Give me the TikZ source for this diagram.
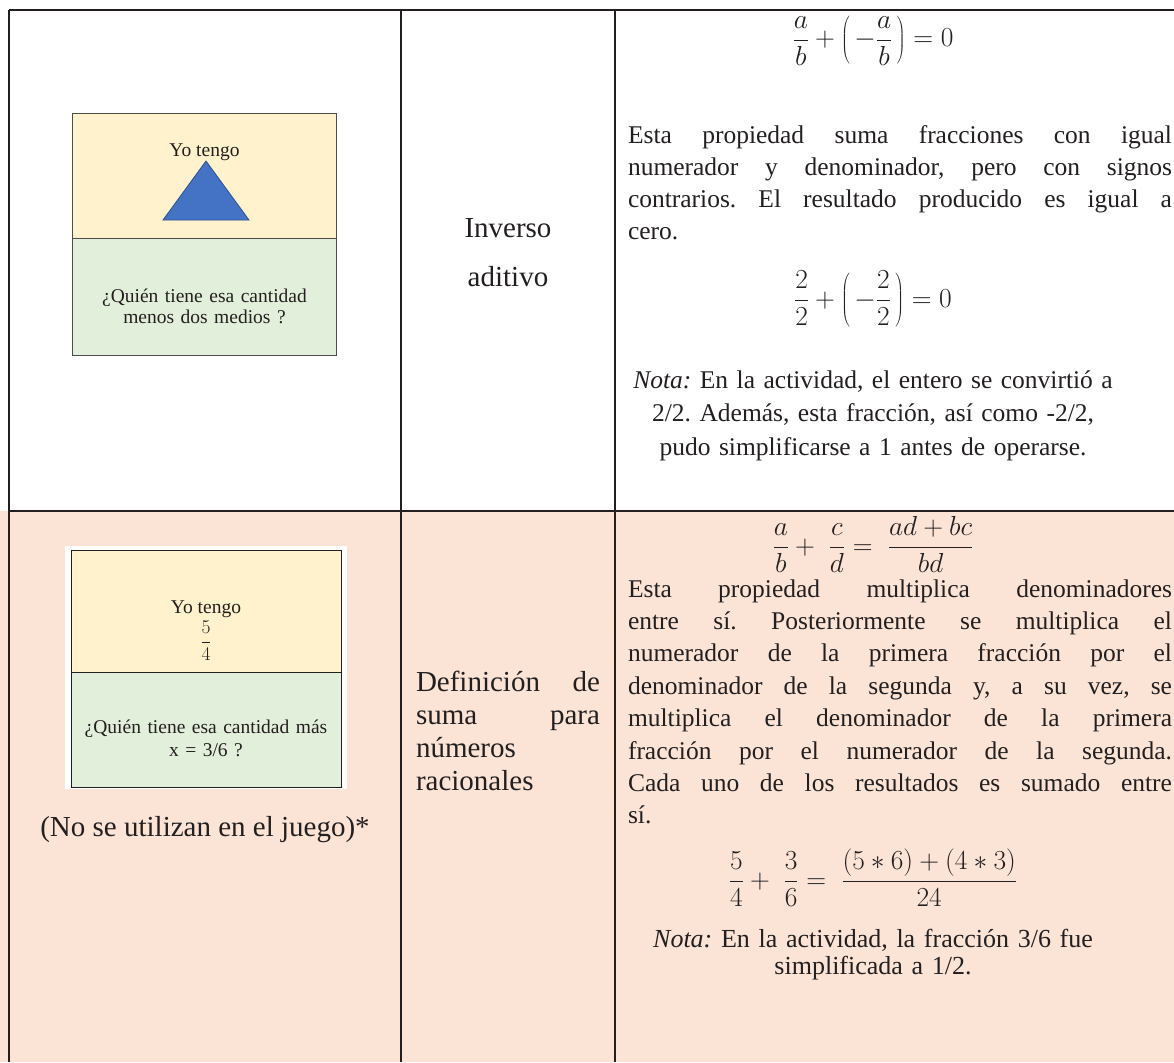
\documentclass[tikz,border=0pt]{standalone}
\usepackage{fix-cm}
\usepackage{fontspec}
\setmainfont{Liberation Serif}
\definecolor{ink}{HTML}{231F20}
\definecolor{peach}{HTML}{FBE4D5}
\definecolor{cardyellow}{HTML}{FFF2CC}
\definecolor{cardgreen}{HTML}{E2EFDA}
\definecolor{triblue}{HTML}{4472C4}
\definecolor{triedge}{HTML}{2F528F}
\hyphenpenalty=10000
\exhyphenpenalty=10000
\pretolerance=-1
\tolerance=10000
\frenchspacing
\tikzset{
  rule/.style={line width=2pt, draw=ink},
  body/.style={font=\fontsize{25.5}{32.3}\selectfont},
  mathline/.style={font=\fontsize{27.5}{33}\selectfont},
  midtext/.style={font=\fontsize{29}{33}\selectfont},
  cardtext/.style={font=\fontsize{19.5}{21.5}\selectfont},
  cardbox/.style={draw=#1, line width=1pt, inner sep=0pt},
  cardbox/.default=ink,
}
\begin{document}
\begin{tikzpicture}[x=1pt,y=-1pt, every node/.style={inner sep=0pt, outer sep=0pt, text=ink}]
\useasboundingbox (0,0) rectangle (1174,1062);
% backgrounds
\fill[white] (0,0) rectangle (1174,511);
\fill[peach] (0,511) rectangle (1174,1062);
% table rules
\draw[rule] (9,10) -- (1174,10);
\draw[rule] (9,511) -- (1174,511);
\draw[rule] (9,10) -- (9,1062);
\draw[rule] (401,10) -- (401,1062);
\draw[rule] (615,10) -- (615,1062);

% ---- card 1
\node (c1top) [cardbox=black!70, fill=cardyellow, minimum width=264pt, minimum height=124pt] at (204,176) {};
\node (c1bot) [cardbox=black!70, fill=cardgreen, minimum width=264pt, minimum height=117pt] at (204,296.5) {};
\draw[fill=triblue, draw=triedge, line width=0.8pt] (206,161) -- (249,220) -- (163,220) -- cycle;
\node (c1have) [cardtext, anchor=base] at (204.5,156) {Yo tengo};
\node (c1ask) [cardtext, anchor=base, text width=250pt, align=center] at (204.5,302)
  {¿Quién tiene esa cantidad\\ menos dos medios ?};

% ---- card 2
\node (c2frame) [fill=white, minimum width=282pt, minimum height=243pt] at (206,667.5) {};
\node (c2top) [cardbox, fill=cardyellow, minimum width=270pt, minimum height=122pt] at (206,611) {};
\node (c2bot) [cardbox, fill=cardgreen, minimum width=270pt, minimum height=115pt] at (206,729.5) {};
\node (c2have) [cardtext, anchor=base] at (206,613) {Yo tengo};
\node (c2frac) [cardtext, anchor=base] at (206,647) {$\displaystyle\frac{5}{4}$};
\node (c2ask) [cardtext, anchor=base, text width=260pt, align=center, font=\fontsize{19.5}{23}\selectfont] at (206,733)
  {¿Quién tiene esa cantidad más\\ x = 3/6 ?};
\node (unused) [midtext, anchor=base] at (205,836) {(No se utilizan en el juego)*};

% ---- middle column
\node (inv) [anchor=base, text width=180pt, align=center, font=\fontsize{29}{49}\selectfont] at (508,237)
  {Inverso\\ aditivo};
\node (defsum) [anchor=base west, text width=184pt, align=justify, midtext] at (416,691)
  {Definición de\linebreak suma para\linebreak números\\ racionales};

% ---- right column, top
\node (f1) [mathline, anchor=base] at (873,47)
  {$\displaystyle \frac{a}{b}+\left(\,-\frac{a}{b}\,\right)=0$};
\node (p1) [body, anchor=base west, text width=544pt, align=justify] at (628,143)
  {Esta propiedad suma fracciones con igual\linebreak
   numerador y denominador, pero con signos\linebreak
   contrarios. El resultado producido es igual a\linebreak
   cero.};
\node (f2) [mathline, anchor=base] at (873,307)
  {$\displaystyle \frac{2}{2}+\left(\,-\frac{2}{2}\,\right)=0$};
\node (n1) [anchor=base, text width=530pt, align=center, font=\fontsize{25.5}{33.5}\selectfont] at (873,388)
  {\textit{Nota:} En la actividad, el entero se convirtió a\\
   2/2. Además, esta fracción, así como -2/2,\\
   pudo simplificarse a 1 antes de operarse.};

% ---- right column, bottom
\node (f3) [mathline, anchor=base] at (873,554)
  {$\displaystyle \frac{a}{b}+\;\frac{c}{d}=\;\frac{ad+bc}{bd}$};
\node (p2) [anchor=base west, text width=544pt, align=justify, font=\fontsize{25.5}{32.4}\selectfont] at (628,597)
  {Esta propiedad multiplica denominadores\linebreak
   entre sí. Posteriormente se multiplica el\linebreak
   numerador de la primera fracción por el\linebreak
   denominador de la segunda y, a su vez, se\linebreak
   multiplica el denominador de la primera\linebreak
   fracción por el numerador de la segunda.\linebreak
   Cada uno de los resultados es sumado entre\linebreak
   sí.};
\node (f4) [mathline, anchor=base] at (873,888)
  {$\displaystyle \frac{5}{4}+\;\frac{3}{6}=\;\frac{(5\ast6)+(4\ast3)}{24}$};
\node (n2) [anchor=base, text width=530pt, align=center, font=\fontsize{26}{27}\selectfont] at (873,947)
  {\textit{Nota:} En la actividad, la fracción 3/6 fue\\ simplificada a 1/2.};
\end{tikzpicture}
\end{document}
